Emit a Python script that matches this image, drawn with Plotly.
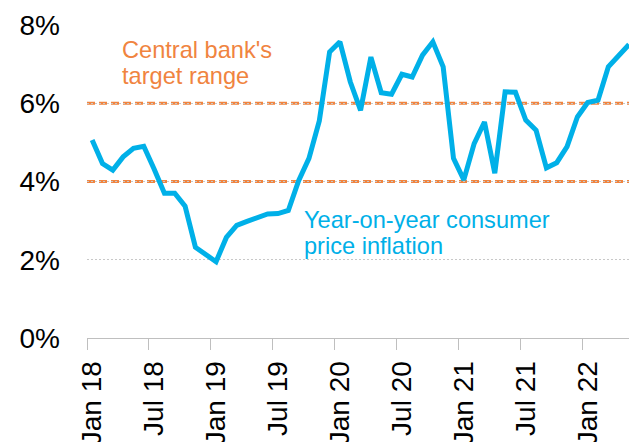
import plotly.graph_objects as go

# Monthly labels, Jan 2018 - May 2022
months = [
    "Jan 18", "Feb 18", "Mar 18", "Apr 18", "May 18", "Jun 18",
    "Jul 18", "Aug 18", "Sep 18", "Oct 18", "Nov 18", "Dec 18",
    "Jan 19", "Feb 19", "Mar 19", "Apr 19", "May 19", "Jun 19",
    "Jul 19", "Aug 19", "Sep 19", "Oct 19", "Nov 19", "Dec 19",
    "Jan 20", "Feb 20", "Mar 20", "Apr 20", "May 20", "Jun 20",
    "Jul 20", "Aug 20", "Sep 20", "Oct 20", "Nov 20", "Dec 20",
    "Jan 21", "Feb 21", "Mar 21", "Apr 21", "May 21", "Jun 21",
    "Jul 21", "Aug 21", "Sep 21", "Oct 21", "Nov 21", "Dec 21",
    "Jan 22", "Feb 22", "Mar 22", "Apr 22", "May 22",
]

# Year-on-year consumer price inflation, %
cpi_yoy = [
    5.06, 4.46, 4.29, 4.63, 4.85, 4.90, 4.32, 3.70, 3.70, 3.37, 2.32, 2.13,
    1.95, 2.57, 2.88, 2.98, 3.07, 3.17, 3.18, 3.26, 4.02, 4.59, 5.55, 7.31,
    7.57, 6.55, 5.82, 7.18, 6.27, 6.23, 6.74, 6.67, 7.23, 7.57, 6.93, 4.59,
    4.04, 4.97, 5.52, 4.21, 6.29, 6.28, 5.57, 5.31, 4.35, 4.48, 4.89, 5.65,
    6.02, 6.08, 6.93, 7.22, 7.50,
]

# Central bank's target range, %
target_range = [4, 6]

y_ticks = [0, 2, 4, 6, 8]
y_tick_text = [f"{v}%" for v in y_ticks]

BLUE = "#00B0E8"
ORANGE = "#F0843F"
FONT = "Liberation Sans, Arial, sans-serif"

fig = go.Figure()

fig.add_trace(go.Scatter(
    x=months, y=cpi_yoy, mode="lines",
    line=dict(color=BLUE, width=5),
    hoverinfo="x+y", showlegend=False,
))

for level in target_range:
    fig.add_hline(y=level, line=dict(color=ORANGE, width=3, dash="8px,4px"),
                  layer="below")

# Plot area in pixels: x 87..629, y 25..338
L, R, T, B = 87, 0, 25, 104
W, H = 629, 442
pw, ph = W - L - R, H - T - B


def px(xp):
    return (xp - L) / pw


def py(yp):
    return (H - B - yp) / ph


labels = [
    ("Central bank's", 120, 50, ORANGE),
    ("target range", 120, 75.5, ORANGE),
    ("Year-on-year consumer", 302, 220.5, BLUE),
    ("price inflation", 302, 246, BLUE),
]
for text, xp, yp, col in labels:
    fig.add_annotation(
        text=text, xref="paper", yref="paper", x=px(xp), y=py(yp),
        xanchor="left", yanchor="middle", showarrow=False,
        font=dict(family=FONT, size=23.6, color=col),
    )

fig.update_layout(
    width=W, height=H,
    margin=dict(l=L, r=R, t=T, b=B, pad=0, autoexpand=False),
    paper_bgcolor="white", plot_bgcolor="white",
    font=dict(family=FONT, color="black"),
    xaxis=dict(
        type="category", range=[-0.5, 52.0], automargin=False,
        tickmode="linear", tick0=0, dtick=6, tickson="boundaries",
        tickangle=-90, tickfont=dict(size=28, color="black"),
        ticks="outside", ticklen=11, tickcolor="#BFBFBF", tickwidth=1,
        ticklabelstandoff=11,
        showline=True, linecolor="#BFBFBF", linewidth=1,
        showgrid=False, zeroline=False,
    ),
    yaxis=dict(
        range=[0, 8], tickmode="array", tickvals=y_ticks, ticktext=y_tick_text,
        tickfont=dict(size=28, color="black"), automargin=False,
        showgrid=True, gridcolor="#C8C8C8", gridwidth=1, griddash="2px,2px",
        zeroline=False, showline=False, ticks="",
        ticklabelstandoff=26,
    ),
)

fig.write_html("out.html")
